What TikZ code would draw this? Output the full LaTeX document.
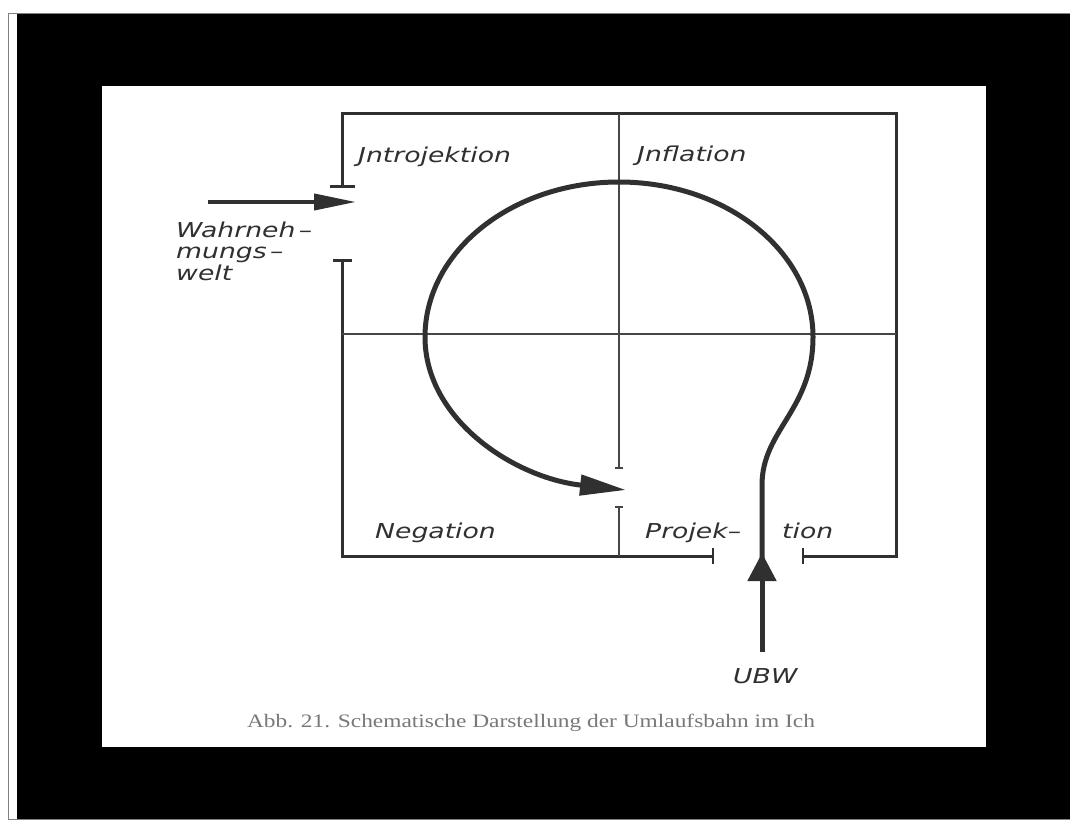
\documentclass[tikz,border=0pt]{standalone}
\usepackage{fontspec}
\setmainfont{Liberation Serif}
\newfontfamily\lab[FakeStretch=1.3]{DejaVu Sans}
\newfontfamily\capfont[FakeStretch=1.23]{Liberation Serif}
\usetikzlibrary{arrows.meta}
\definecolor{ink}{RGB}{48,48,48}
\definecolor{thinink}{RGB}{70,70,70}
\definecolor{capgray}{RGB}{120,120,120}
\tikzset{
  boxline/.style={draw=ink, line width=3pt},
  crossline/.style={draw=thinink, line width=1.4pt},
  heavy/.style={draw=ink, line width=5pt},
  lbl/.style={inner sep=0pt, anchor=base west, text=ink, font=\lab\itshape\fontsize{20.5}{24}\selectfont},
}
\begin{document}
\begin{tikzpicture}[x=1pt,y=-1pt]
\useasboundingbox (0,0) rectangle (1070,821);
\fill[white] (0,0) rectangle (1070,821);
\fill[black] (17,14) rectangle (1070,819);
\draw[gray, line width=1pt] (1070,14) -- (8,14) -- (8,819) -- (1070,819);
\fill[white] (102,86) rectangle (986,747);
% box corners
\coordinate (TL) at (342,114);
\coordinate (TR) at (896,114);
\coordinate (BR) at (896,556);
\coordinate (BL) at (342,556);
\coordinate (LupT) at (342,187);
\coordinate (LloT) at (342,260);
\coordinate (BleftT) at (713,556);
\coordinate (BrightT) at (803,556);
\draw[boxline] (LupT) -- (TL) -- (TR) -- (BR) -- (BrightT);
\draw[boxline] (LloT) -- (BL) -- (BleftT);
\draw[boxline] (330,187) -- (355,187);
\draw[boxline] (333,260) -- (352,260);
\draw[boxline, line width=2.5pt] (713,548) -- (713,564);
\draw[boxline, line width=2.5pt] (803,548) -- (803,564);
% cross
\coordinate (Mleft) at (342,334);
\coordinate (Mright) at (896,334);
\coordinate (Vtop) at (619,114);
\coordinate (Vmid1) at (619,468);
\coordinate (Vmid2) at (619,507);
\coordinate (Vbot) at (619,556);
\draw[crossline] (Mleft) -- (Mright);
\draw[crossline] (Vtop) -- (Vmid1);
\draw[crossline] (Vmid2) -- (Vbot);
\draw[crossline] (615,468) -- (623,468);
\draw[crossline] (615,507) -- (623,507);
% Wahrnehmungswelt arrow
\coordinate (Wstart) at (208,202);
\coordinate (Wtip) at (356,202);
\draw[draw=ink, line width=4pt, -{Triangle[length=42pt,width=16pt]}] (Wstart) -- (Wtip);
% UBW arrow
\coordinate (Ustart) at (762,652);
\coordinate (Utip) at (762,553);
\draw[heavy, -{Triangle[length=28pt,width=28pt]}] (Ustart) -- (Utip);
% spiral
\coordinate (Stip) at (626,490);
\draw[heavy, -{Triangle[length=46pt,width=20pt]}] (762,575) -- (762,485)
  .. controls (762,430) and (813,410) .. (813,337)
  arc[start angle=0, end angle=-180, x radius=194, y radius=155]
  .. controls (425,420) and (515,478) .. (Stip);
% labels
\node[lbl] (intro) at (358,163) {Jntrojektion};
\node[lbl] (infl) at (637,162) {Jnflation};
\node[lbl] (neg) at (375,538) {Negation};
\node[lbl] (proj1) at (645,538) {Projek–};
\node[lbl] (proj2) at (782,538) {tion};
\node[lbl] (w1) at (176,237) {Wahrneh\,–};
\node[lbl] (w2) at (176,258) {mungs\,–};
\node[lbl] (w3) at (176,280) {welt};
\node[lbl] (ubw) at (733,683) {UBW};
\node[inner sep=0pt, anchor=base, text=capgray, font=\capfont\fontsize{19}{22}\selectfont] (cap) at (531,727) {Abb. 21. Schematische Darstellung der Umlaufsbahn im Ich};
\end{tikzpicture}
\end{document}
